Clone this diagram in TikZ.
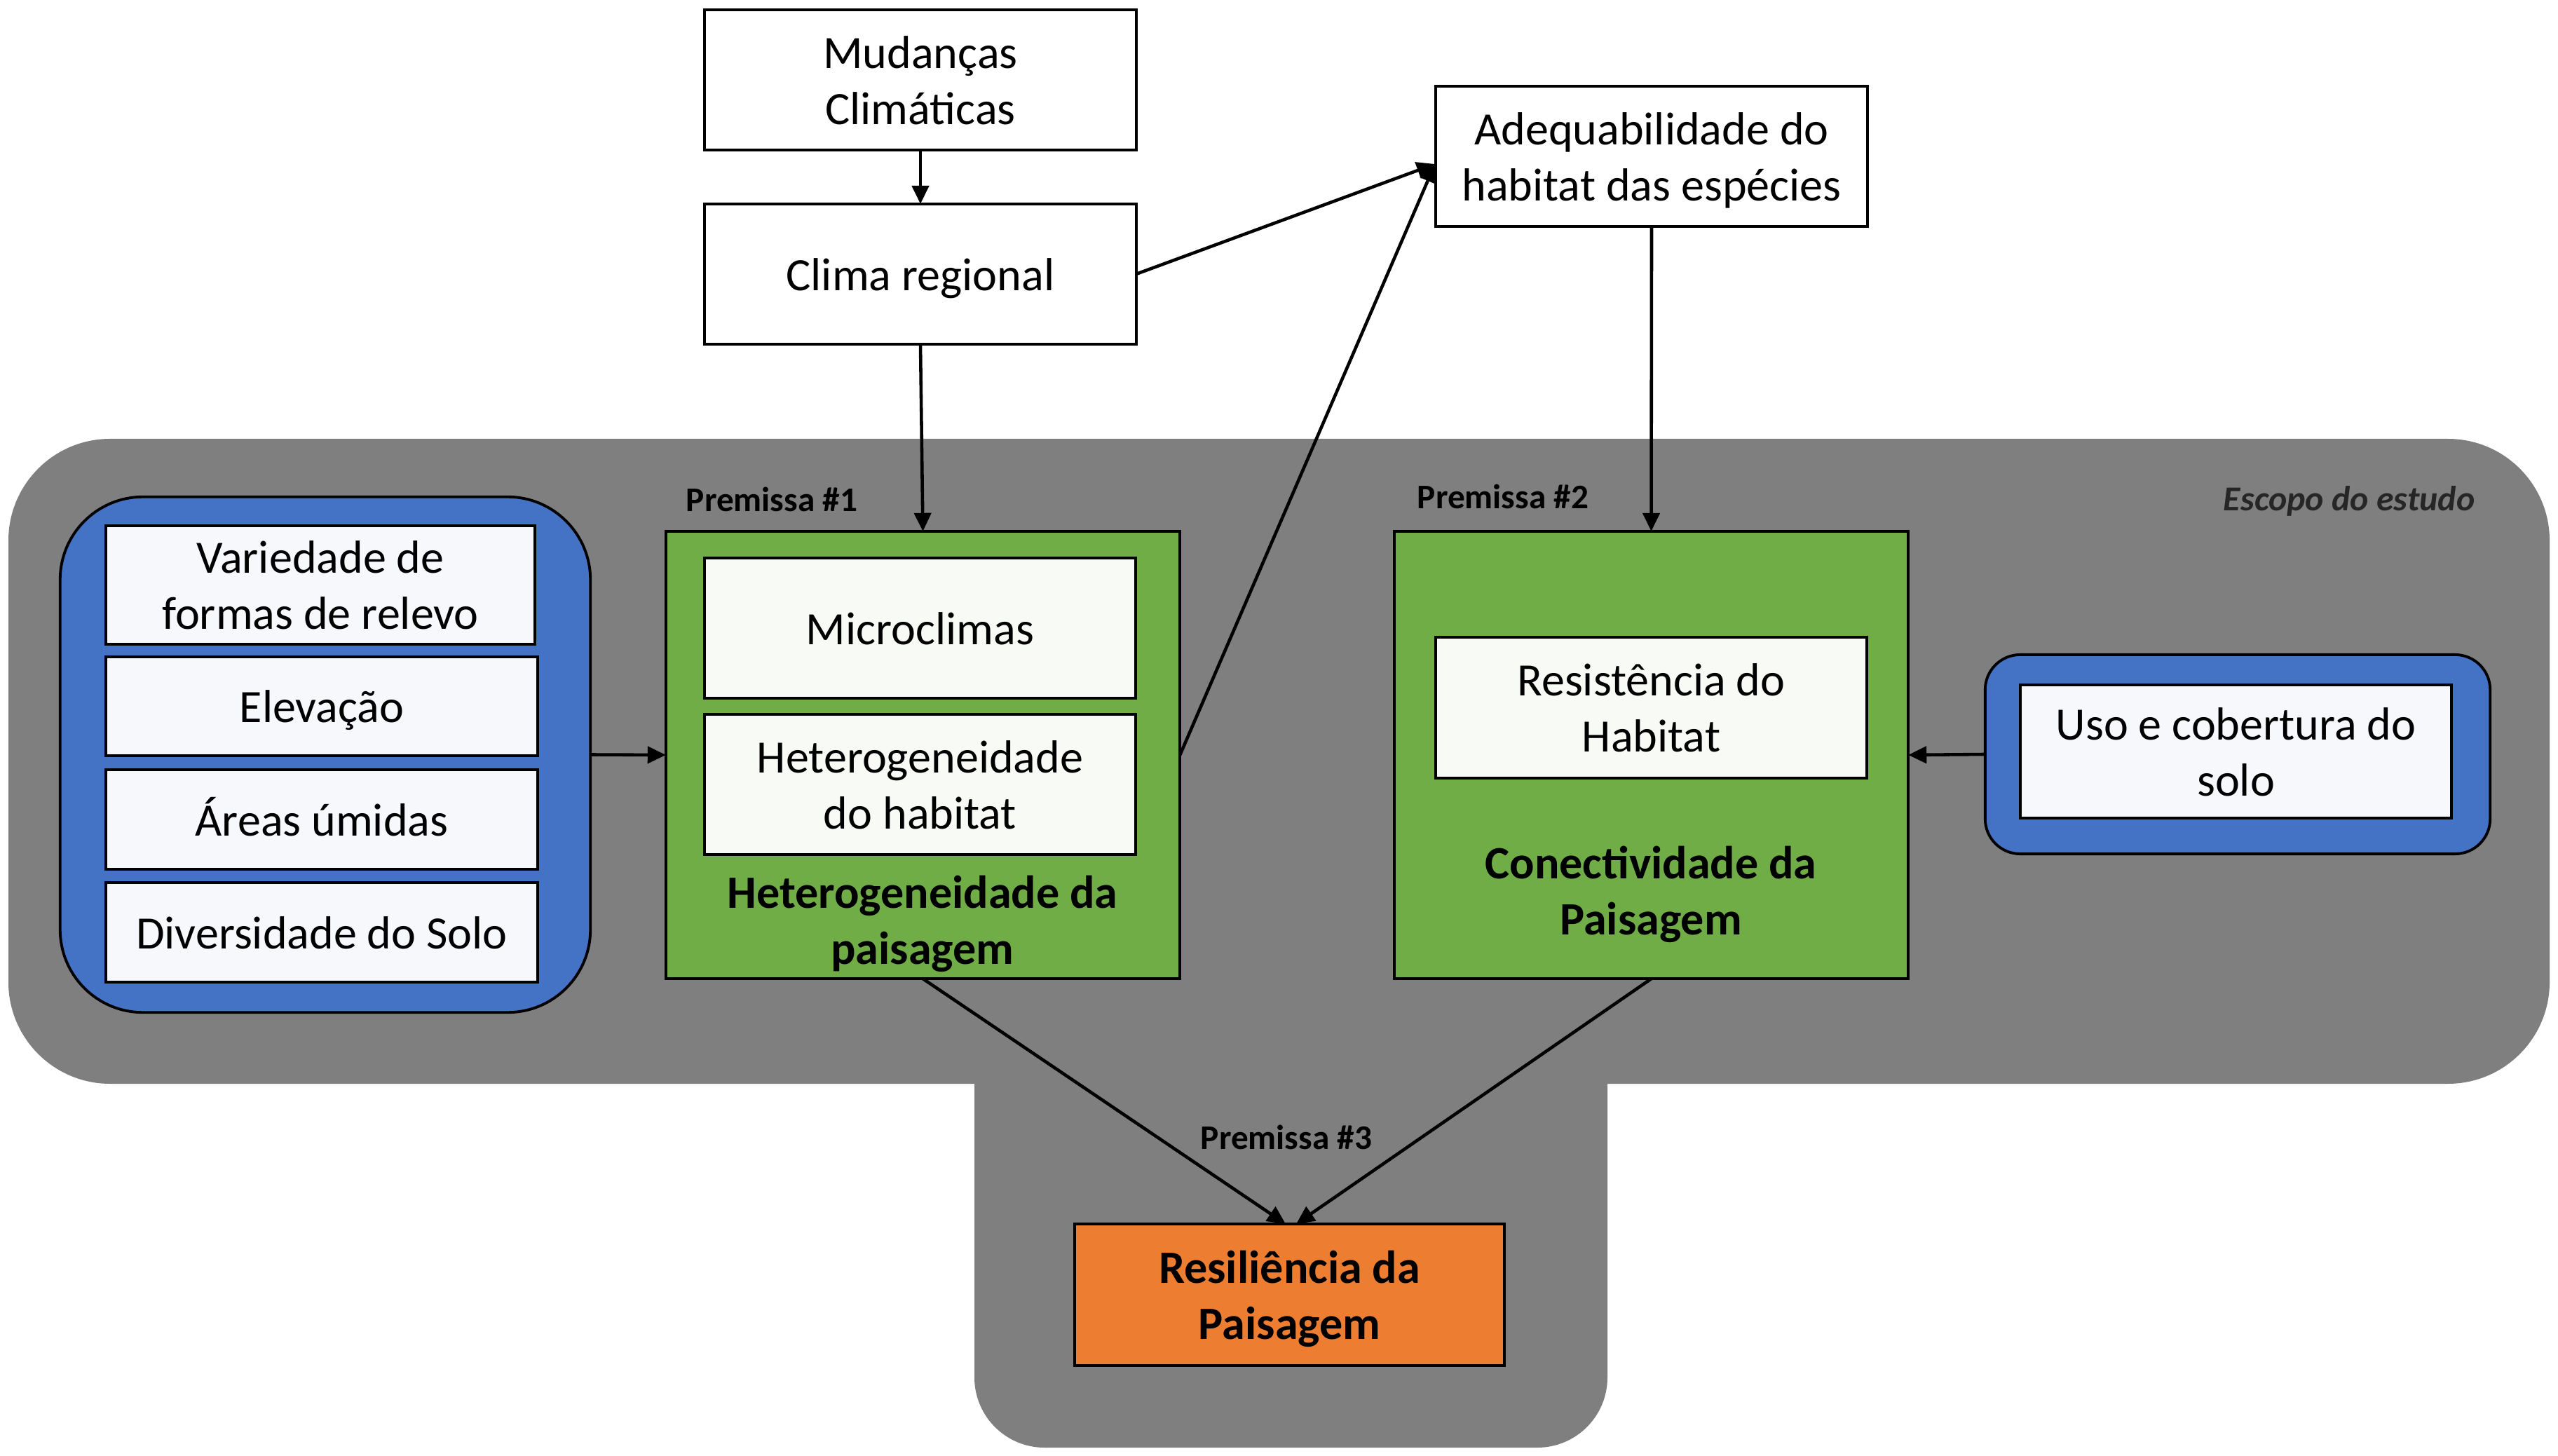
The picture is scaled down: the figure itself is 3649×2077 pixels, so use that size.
\documentclass[tikz,border=0pt]{standalone}
\usepackage{fontspec}
\setmainfont{Carlito}
\usetikzlibrary{arrows.meta}
\definecolor{scopegray}{HTML}{7F7F7F}
\definecolor{bluefill}{HTML}{4472C4}
\definecolor{greenfill}{HTML}{70AD47}
\definecolor{orangefill}{HTML}{ED7D31}
\definecolor{ingreen}{HTML}{F8FAF6}
\definecolor{inblue}{HTML}{F6F8FC}
\definecolor{scopetext}{HTML}{262626}
\newcommand\ts{\rule{0pt}{0.92em}}
\newcommand\bs{\rule[-0.22em]{0pt}{0.22em}}
\begin{document}
\begin{tikzpicture}[x=0.01cm,y=-0.01cm,
  txt/.style={font=\fontsize{18.8pt}{22.8pt}\selectfont, align=center},
  boldtxt/.style={font=\fontsize{18.8pt}{22.8pt}\selectfont\bfseries, align=center},
  premtxt/.style={font=\fontsize{14pt}{17pt}\selectfont\bfseries},
  box/.style={txt, draw=black, line width=1.1pt, inner sep=0pt, outer sep=0pt},
  whitebox/.style={box, fill=white},
  greenin/.style={box, fill=ingreen},
  bluein/.style={box, fill=inblue},
  greenbox/.style={box, fill=greenfill},
  bluegroup/.style={box, fill=bluefill},
  orangebox/.style={box, fill=orangefill, font=\fontsize{18.8pt}{22.8pt}\selectfont\bfseries},
  arr/.style={-{Triangle[length=0.26cm,width=0.24cm]}, line width=1.3pt}
]
\path[use as bounding box] (0,0) rectangle (3649,2077);

% scope background
\fill[scopegray, rounded corners=1.45cm] (12,626) rectangle (3637,1546);
\fill[scopegray, rounded corners=1.0cm] (1390,1400) -- (1390,2065) -- (2293,2065) -- (2293,1400);

% top boxes
\node[whitebox, minimum width=6.15cm, minimum height=2.0cm] (mud) at (1313,114) {\ts Mudanças\\Climáticas\bs};
\node[whitebox, minimum width=6.15cm, minimum height=2.0cm] (clima) at (1313,391) {\ts Clima regional\bs};
\node[whitebox, minimum width=6.16cm, minimum height=2.0cm] (adeq) at (2356,223) {\ts Adequabilidade do\\habitat das espécies\bs};

% left blue group
\node[bluegroup, rounded corners=1.18cm, minimum width=7.56cm, minimum height=7.35cm] (blueL) at (464,1076.5) {};
\node[bluein, minimum width=6.12cm, minimum height=1.69cm] (var) at (457,834.5) {\ts Variedade de\\formas de relevo\bs};
\node[bluein, minimum width=6.16cm, minimum height=1.41cm] (elev) at (459,1007.5) {\ts Elevação\bs};
\node[bluein, minimum width=6.16cm, minimum height=1.42cm] (areas) at (459,1169) {\ts Áreas úmidas\bs};
\node[bluein, minimum width=6.16cm, minimum height=1.42cm] (div) at (459,1330) {\ts Diversidade do Solo\bs};

% green box 1
\node[greenbox, minimum width=7.33cm, minimum height=6.38cm] (het) at (1316.5,1077) {};
\node[greenin, minimum width=6.15cm, minimum height=2.0cm] (micro) at (1312.5,896) {\ts Microclimas\bs};
\node[greenin, minimum width=6.15cm, minimum height=2.0cm] (hethab) at (1312.5,1119) {\ts Heterogeneidade\\do habitat\bs};
\node[boldtxt, inner sep=0pt] (hetlab) at (1316,1312) {\ts Heterogeneidade da\\paisagem\bs};
\node[premtxt] (p1) at (1101,712) {Premissa \#1};

% green box 2
\node[greenbox, minimum width=7.33cm, minimum height=6.38cm] (con) at (2355.5,1077) {};
\node[greenin, minimum width=6.15cm, minimum height=2.01cm] (resist) at (2355.5,1009.5) {\ts Resistência do\\Habitat\bs};
\node[boldtxt, inner sep=0pt] (conlab) at (2355,1270) {\ts Conectividade da\\Paisagem\bs};
\node[premtxt] (p2) at (2144,708) {Premissa \#2};

% right blue group
\node[bluegroup, rounded corners=0.5cm, minimum width=7.2cm, minimum height=2.84cm] (blueR) at (3192,1076) {};
\node[bluein, minimum width=6.15cm, minimum height=1.9cm] (uso) at (3189.5,1072) {\ts Uso e cobertura do\\solo\bs};

% scope label
\node[font=\fontsize{14.2pt}{17pt}\selectfont\bfseries\itshape, text=scopetext, anchor=east, inner sep=0pt] (escopo) at (3531,715) {Escopo do estudo};

% result
\node[orangebox, minimum width=6.13cm, minimum height=2.02cm] (resil) at (1839.5,1847) {\ts Resiliência da\\Paisagem\bs};
\node[premtxt] (p3) at (1835,1622) {Premissa \#3};

% connector end points
\coordinate (adeqin) at (2047,234);
\coordinate (resinL) at (1834,1746);
\coordinate (resinR) at (1849,1746);

% connectors
\draw[arr] (mud.south) -- (clima.north);
\draw[arr] (clima.south) -- (het.north);
\draw[arr] (clima.east) -- (adeqin);
\draw[arr] (het.east) -- (adeqin);
\draw[arr] (adeq.south) -- (con.north);
\draw[arr] (blueL.east) -- (het.west);
\draw[arr] (blueR.west) -- (con.east);
\draw[arr] (het.south) -- (resinL);
\draw[arr] (con.south) -- (resinR);
\end{tikzpicture}
\end{document}
